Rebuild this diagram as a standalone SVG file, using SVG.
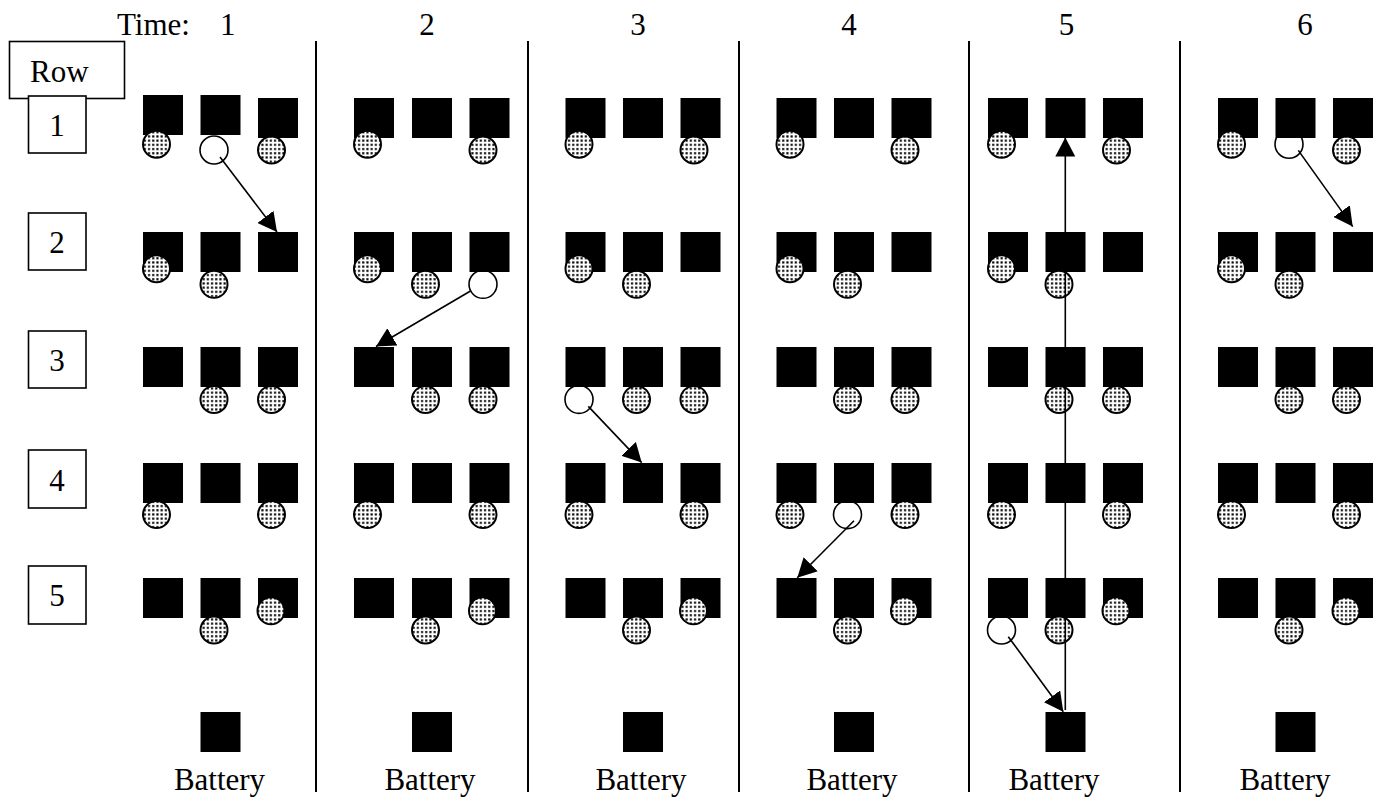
<svg xmlns="http://www.w3.org/2000/svg" width="1376" height="799" viewBox="0 0 1376 799">
<style>
.t{font-family:'Liberation Serif','DejaVu Serif','Times New Roman',Times,serif;font-size:31px;fill:#000}
.m{text-anchor:middle}
.box{fill:#fff;stroke:#000;stroke-width:1.6}
.sep{stroke:#000;stroke-width:2}
.sq{fill:#000}
.d{fill:url(#dots);stroke:#000;stroke-width:2}
.w{fill:#fff;stroke:#000;stroke-width:1.6}
.c{stroke:#000;stroke-width:1.6;fill:none;marker-end:url(#ah)}
</style>
<defs>
<pattern id="dots" width="4.2" height="4.2" patternUnits="userSpaceOnUse">
<rect width="4.2" height="4.2" fill="#fff"/>
<rect x="1" y="1" width="2.1" height="2.1" fill="#000"/>
</pattern>
<marker id="ah" markerUnits="userSpaceOnUse" markerWidth="19" markerHeight="20" refX="19" refY="10" orient="auto">
<path d="M0,0 L19,10 L0,20 z" fill="#000"/>
</marker>
<rect id="s" width="40" height="40"/>
</defs>
<rect width="1376" height="799" fill="#fff"/>

<g id="header" font-family="Liberation Serif, serif">
<text class="t" x="117" y="35">Time:<tspan x="220">1</tspan></text>
<text class="t m" x="427" y="35">2</text>
<text class="t m" x="638" y="35">3</text>
<text class="t m" x="849" y="35">4</text>
<text class="t m" x="1066.5" y="35">5</text>
<text class="t m" x="1305" y="35">6</text>
</g>

<g id="separators">
<line class="sep" x1="316" y1="41" x2="316" y2="792"/>
<line class="sep" x1="528" y1="41" x2="528" y2="792"/>
<line class="sep" x1="739" y1="41" x2="739" y2="792"/>
<line class="sep" x1="969" y1="41" x2="969" y2="792"/>
<line class="sep" x1="1180" y1="41" x2="1180" y2="792"/>
</g>

<g id="rowlabels">
<g id="row-head"><rect class="box" x="9.5" y="41.5" width="115" height="57"/><text class="t" x="30" y="81.5">Row</text></g>
<g id="row1"><rect class="box" x="28.5" y="96" width="57.5" height="57"/><text class="t m" x="57" y="136">1</text></g>
<g id="row2"><rect class="box" x="28.5" y="213" width="57.5" height="57"/><text class="t m" x="57" y="253">2</text></g>
<g id="row3"><rect class="box" x="28.5" y="331" width="57.5" height="57"/><text class="t m" x="57" y="371">3</text></g>
<g id="row4"><rect class="box" x="28.5" y="450" width="57.5" height="58"/><text class="t m" x="57" y="491">4</text></g>
<g id="row5"><rect class="box" x="28.5" y="566" width="57.5" height="58"/><text class="t m" x="57" y="606">5</text></g>
</g>

<g id="time1">
<circle class="w" cx="214" cy="150" r="14"/>
<g class="sq">
<use href="#s" x="143" y="95"/><use href="#s" x="200.5" y="95"/><use href="#s" x="258" y="98"/>
<use href="#s" x="143" y="232"/><use href="#s" x="200.5" y="232"/><use href="#s" x="258" y="232"/>
<use href="#s" x="143" y="347"/><use href="#s" x="200.5" y="347"/><use href="#s" x="258" y="347"/>
<use href="#s" x="143" y="463"/><use href="#s" x="200.5" y="463"/><use href="#s" x="258" y="463"/>
<use href="#s" x="143" y="578"/><use href="#s" x="200.5" y="578"/><use href="#s" x="258" y="578"/>
<use href="#s" x="200.5" y="712"/>
</g>
<circle class="d" cx="156.5" cy="144.2" r="13.5"/><circle class="d" cx="271.5" cy="150" r="13.5"/>
<circle class="d" cx="156.5" cy="268.7" r="13.5"/><circle class="d" cx="214" cy="284.3" r="13.5"/>
<circle class="d" cx="214" cy="399.4" r="13.5"/><circle class="d" cx="271.5" cy="399.4" r="13.5"/>
<circle class="d" cx="156.5" cy="514.6" r="13.5"/><circle class="d" cx="271.5" cy="514.6" r="13.5"/>
<circle class="d" cx="214" cy="630" r="13.5"/><circle class="d" cx="271" cy="610.8" r="13.5"/>
<text class="t m" x="219.5" y="790">Battery</text>
</g>

<g id="time2">
<circle class="w" cx="483" cy="284.3" r="14"/>
<g class="sq">
<use href="#s" x="354" y="98"/><use href="#s" x="412" y="98"/><use href="#s" x="469.5" y="98"/>
<use href="#s" x="354" y="232"/><use href="#s" x="412" y="232"/><use href="#s" x="469.5" y="232"/>
<use href="#s" x="354" y="347"/><use href="#s" x="412" y="347"/><use href="#s" x="469.5" y="347"/>
<use href="#s" x="354" y="463"/><use href="#s" x="412" y="463"/><use href="#s" x="469.5" y="463"/>
<use href="#s" x="354" y="578"/><use href="#s" x="412" y="578"/><use href="#s" x="469.5" y="578"/>
<use href="#s" x="412" y="712"/>
</g>
<circle class="d" cx="367.5" cy="144.2" r="13.5"/><circle class="d" cx="483" cy="150" r="13.5"/>
<circle class="d" cx="367.5" cy="268.7" r="13.5"/><circle class="d" cx="425.5" cy="284.3" r="13.5"/>
<circle class="d" cx="425.5" cy="399.4" r="13.5"/><circle class="d" cx="483" cy="399.4" r="13.5"/>
<circle class="d" cx="367.5" cy="514.6" r="13.5"/><circle class="d" cx="483" cy="514.6" r="13.5"/>
<circle class="d" cx="425.5" cy="630" r="13.5"/><circle class="d" cx="482.5" cy="610.8" r="13.5"/>
<text class="t m" x="430" y="790">Battery</text>
</g>

<g id="time3">
<circle class="w" cx="579" cy="399.4" r="14"/>
<g class="sq">
<use href="#s" x="565.5" y="98"/><use href="#s" x="623" y="98"/><use href="#s" x="680.5" y="98"/>
<use href="#s" x="565.5" y="232"/><use href="#s" x="623" y="232"/><use href="#s" x="680.5" y="232"/>
<use href="#s" x="565.5" y="347"/><use href="#s" x="623" y="347"/><use href="#s" x="680.5" y="347"/>
<use href="#s" x="565.5" y="463"/><use href="#s" x="623" y="463"/><use href="#s" x="680.5" y="463"/>
<use href="#s" x="565.5" y="578"/><use href="#s" x="623" y="578"/><use href="#s" x="680.5" y="578"/>
<use href="#s" x="623" y="712"/>
</g>
<circle class="d" cx="579" cy="144.2" r="13.5"/><circle class="d" cx="694" cy="150" r="13.5"/>
<circle class="d" cx="579" cy="268.7" r="13.5"/><circle class="d" cx="636.5" cy="284.3" r="13.5"/>
<circle class="d" cx="636.5" cy="399.4" r="13.5"/><circle class="d" cx="694" cy="399.4" r="13.5"/>
<circle class="d" cx="579" cy="514.6" r="13.5"/><circle class="d" cx="694" cy="514.6" r="13.5"/>
<circle class="d" cx="636.5" cy="630" r="13.5"/><circle class="d" cx="693.5" cy="610.8" r="13.5"/>
<text class="t m" x="641" y="790">Battery</text>
</g>

<g id="time4">
<circle class="w" cx="847.5" cy="514.6" r="14"/>
<g class="sq">
<use href="#s" x="776.5" y="98"/><use href="#s" x="834" y="98"/><use href="#s" x="891.5" y="98"/>
<use href="#s" x="776.5" y="232"/><use href="#s" x="834" y="232"/><use href="#s" x="891.5" y="232"/>
<use href="#s" x="776.5" y="347"/><use href="#s" x="834" y="347"/><use href="#s" x="891.5" y="347"/>
<use href="#s" x="776.5" y="463"/><use href="#s" x="834" y="463"/><use href="#s" x="891.5" y="463"/>
<use href="#s" x="776.5" y="578"/><use href="#s" x="834" y="578"/><use href="#s" x="891.5" y="578"/>
<use href="#s" x="834" y="712"/>
</g>
<circle class="d" cx="790" cy="144.2" r="13.5"/><circle class="d" cx="905" cy="150" r="13.5"/>
<circle class="d" cx="790" cy="268.7" r="13.5"/><circle class="d" cx="847.5" cy="284.3" r="13.5"/>
<circle class="d" cx="847.5" cy="399.4" r="13.5"/><circle class="d" cx="905" cy="399.4" r="13.5"/>
<circle class="d" cx="790" cy="514.6" r="13.5"/><circle class="d" cx="905" cy="514.6" r="13.5"/>
<circle class="d" cx="847.5" cy="630" r="13.5"/><circle class="d" cx="904.5" cy="610.8" r="13.5"/>
<text class="t m" x="852" y="790">Battery</text>
</g>

<g id="time5">
<circle class="w" cx="1001.5" cy="630" r="14"/>
<g class="sq">
<use href="#s" x="988" y="98"/><use href="#s" x="1045.5" y="98"/><use href="#s" x="1103" y="98"/>
<use href="#s" x="988" y="232"/><use href="#s" x="1045.5" y="232"/><use href="#s" x="1103" y="232"/>
<use href="#s" x="988" y="347"/><use href="#s" x="1045.5" y="347"/><use href="#s" x="1103" y="347"/>
<use href="#s" x="988" y="463"/><use href="#s" x="1045.5" y="463"/><use href="#s" x="1103" y="463"/>
<use href="#s" x="988" y="578"/><use href="#s" x="1045.5" y="578"/><use href="#s" x="1103" y="578"/>
<use href="#s" x="1045.5" y="712"/>
</g>
<circle class="d" cx="1001.5" cy="144.2" r="13.5"/><circle class="d" cx="1116.5" cy="150" r="13.5"/>
<circle class="d" cx="1001.5" cy="268.7" r="13.5"/><circle class="d" cx="1059" cy="284.3" r="13.5"/>
<circle class="d" cx="1059" cy="399.4" r="13.5"/><circle class="d" cx="1116.5" cy="399.4" r="13.5"/>
<circle class="d" cx="1001.5" cy="514.6" r="13.5"/><circle class="d" cx="1116.5" cy="514.6" r="13.5"/>
<circle class="d" cx="1059" cy="630" r="13.5"/><circle class="d" cx="1116" cy="610.8" r="13.5"/>
<text class="t m" x="1054" y="790">Battery</text>
</g>

<g id="time6">
<circle class="w" cx="1289" cy="144.2" r="14"/>
<g class="sq">
<use href="#s" x="1218" y="98"/><use href="#s" x="1275.5" y="98"/><use href="#s" x="1333" y="98"/>
<use href="#s" x="1218" y="232"/><use href="#s" x="1275.5" y="232"/><use href="#s" x="1333" y="232"/>
<use href="#s" x="1218" y="347"/><use href="#s" x="1275.5" y="347"/><use href="#s" x="1333" y="347"/>
<use href="#s" x="1218" y="463"/><use href="#s" x="1275.5" y="463"/><use href="#s" x="1333" y="463"/>
<use href="#s" x="1218" y="578"/><use href="#s" x="1275.5" y="578"/><use href="#s" x="1333" y="578"/>
<use href="#s" x="1275.5" y="712"/>
</g>
<circle class="d" cx="1231.5" cy="144.2" r="13.5"/><circle class="d" cx="1346.5" cy="150" r="13.5"/>
<circle class="d" cx="1231.5" cy="268.7" r="13.5"/><circle class="d" cx="1289" cy="284.3" r="13.5"/>
<circle class="d" cx="1289" cy="399.4" r="13.5"/><circle class="d" cx="1346.5" cy="399.4" r="13.5"/>
<circle class="d" cx="1231.5" cy="514.6" r="13.5"/><circle class="d" cx="1346.5" cy="514.6" r="13.5"/>
<circle class="d" cx="1289" cy="630" r="13.5"/><circle class="d" cx="1346" cy="610.8" r="13.5"/>
<text class="t m" x="1285" y="790">Battery</text>
</g>

<g id="connectors">
<line class="c" x1="220" y1="157" x2="277" y2="232"/>
<line class="c" x1="470.5" y1="291" x2="376" y2="346.5"/>
<line class="c" x1="588.3" y1="406.4" x2="641.7" y2="462.6"/>
<line class="c" x1="854" y1="520.7" x2="797.3" y2="577.7"/>
<line class="c" x1="1065.3" y1="710" x2="1065.3" y2="137.5"/>
<line class="c" x1="1008.3" y1="636.7" x2="1063.3" y2="711.7"/>
<line class="c" x1="1298.3" y1="150.4" x2="1352.7" y2="226.6"/>
</g>
</svg>
